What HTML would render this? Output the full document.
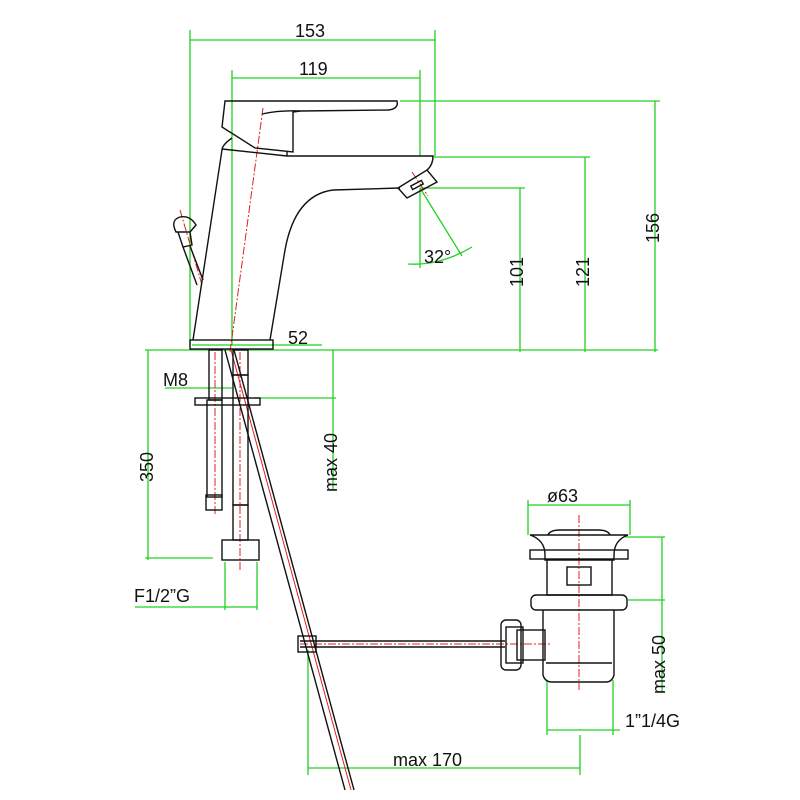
<!DOCTYPE html>
<html><head><meta charset="utf-8"><style>html,body{margin:0;padding:0;background:#fff}svg{display:block}text{font-family:"Liberation Sans",sans-serif;fill:#111}</style></head><body>
<svg width="800" height="800" viewBox="0 0 800 800" xmlns="http://www.w3.org/2000/svg">
<g stroke="#22d022" stroke-width="1.3" fill="none">
<line x1="190" y1="40" x2="435" y2="40"/><line x1="190" y1="30" x2="190" y2="345"/><line x1="435" y1="30" x2="435" y2="158"/>
<line x1="232" y1="78" x2="420" y2="78"/><line x1="232" y1="70" x2="232" y2="345"/><line x1="420" y1="70" x2="420" y2="156"/>
<line x1="400" y1="101" x2="660" y2="101"/><line x1="655" y1="101" x2="655" y2="352"/>
<line x1="436" y1="157" x2="590" y2="157"/><line x1="585" y1="157" x2="585" y2="352"/>
<line x1="420" y1="188" x2="525" y2="188"/><line x1="520" y1="188" x2="520" y2="352"/>
<line x1="145" y1="350" x2="658" y2="350"/>
<line x1="192" y1="345" x2="322" y2="345"/>
<line x1="420" y1="188" x2="420" y2="268"/><line x1="420" y1="188" x2="462" y2="256"/>
<path d="M408 264 Q440 266 472 247"/>
<line x1="148" y1="350" x2="148" y2="560"/><line x1="145" y1="558" x2="213" y2="558"/>
<line x1="165" y1="388" x2="232" y2="388"/>
<line x1="333" y1="350" x2="333" y2="490"/><line x1="255" y1="398" x2="336" y2="398"/>
<line x1="135" y1="607" x2="257" y2="607"/><line x1="225" y1="562" x2="225" y2="610"/><line x1="257" y1="562" x2="257" y2="610"/>
<line x1="528" y1="505" x2="630" y2="505"/><line x1="528" y1="500" x2="528" y2="535"/><line x1="630" y1="500" x2="630" y2="535"/>
<line x1="662" y1="537" x2="662" y2="692"/><line x1="625" y1="537" x2="665" y2="537"/><line x1="628" y1="600" x2="665" y2="600"/>
<line x1="547" y1="680" x2="547" y2="735"/><line x1="613" y1="680" x2="613" y2="735"/><line x1="547" y1="730" x2="620" y2="730"/>
<line x1="308" y1="768" x2="580" y2="768"/><line x1="308" y1="650" x2="308" y2="775"/><line x1="580" y1="735" x2="580" y2="775"/>
</g>
<g stroke="#e02020" stroke-width="1" fill="none" stroke-dasharray="8 2 2 2">
<line x1="263" y1="108" x2="230" y2="352"/>
<line x1="180" y1="210" x2="202" y2="285"/>
<line x1="215" y1="352" x2="215" y2="515"/>
<line x1="240" y1="352" x2="240" y2="570"/>
<line x1="579" y1="515" x2="579" y2="690"/>
<line x1="300" y1="644" x2="550" y2="644"/>
<line x1="412" y1="172" x2="428" y2="196"/>
</g>
<g stroke="#e02020" stroke-width="1" fill="none">
<line x1="231" y1="350" x2="351" y2="790"/>
</g>
<g stroke="#111" stroke-width="1.4" fill="none">
<path d="M225 101 L397 101 Q399 109 388 110 L300 111 L293 112 L293 152 L255 148 L222 127 Z"/>
<path d="M262 114 Q280 110 300 111"/>
<path d="M232 138 Q222 145 222 150 L193 340"/>
<path d="M222 149 L287 156 L433 156 Q433 165 427 170"/>
<path d="M287 156 L287 151"/>
<path d="M333 190 L400 188"/>
<path d="M333 190 Q295 195 285 250 L270 340"/>
<path d="M398 188 L427 170 L437 182 L407 198 Z"/>
<rect x="411" y="183" width="12" height="4" transform="rotate(-28 417 185)"/>
<rect x="190" y="340" width="83" height="9"/>
<path d="M176 232 Q170 220 180 217 Q190 215 196 225 L190 232 Z"/>
<path d="M178 232 L183 247 L192 245 L190 232"/>
<line x1="183" y1="247" x2="197" y2="285"/><line x1="190" y1="246" x2="203" y2="280"/>
<rect x="209" y="350" width="13" height="50"/>
<rect x="207" y="400" width="15" height="97"/>
<rect x="206" y="495" width="16" height="15"/>
<rect x="195" y="398" width="65" height="7"/>
<rect x="233" y="350" width="15" height="25"/>
<rect x="233" y="375" width="15" height="130"/>
<rect x="233" y="505" width="15" height="35"/>
<rect x="222" y="540" width="37" height="20"/>
<line x1="225" y1="350" x2="345" y2="790"/><line x1="234" y1="350" x2="354" y2="790"/>
<line x1="300" y1="641" x2="505" y2="641"/><line x1="300" y1="647" x2="505" y2="647"/>
<rect x="298" y="636" width="18" height="16"/>
<path d="M530 535 Q545 540 545 555 L545 560 L614 560 L614 555 Q614 540 628 535 Z"/>
<path d="M548 535 Q550 530 560 530 L598 530 Q608 530 610 535"/>
<rect x="530" y="550" width="98" height="9"/>
<path d="M547 559 L547 595 L612 595 L612 559"/>
<rect x="567" y="567" width="24" height="18"/>
<rect x="531" y="595" width="96" height="15" rx="5"/>
<path d="M543 610 L543 675 Q545 682 552 682 L606 682 Q612 682 614 675 L614 610"/>
<line x1="546" y1="663" x2="612" y2="663"/>
<rect x="517" y="630" width="28" height="30"/>
<rect x="501" y="620" width="20" height="50" rx="5"/>
<rect x="506" y="627" width="17" height="36"/>
</g>
<g font-size="18">
<text x="295" y="37">153</text>
<text x="299" y="75">119</text>
<text x="288" y="344">52</text>
<text x="424" y="263">32°</text>
<text x="163" y="386">M8</text>
<text x="134" y="602">F1/2”G</text>
<text x="547" y="502">ø63</text>
<text x="625" y="727">1”1/4G</text>
<text x="393" y="766">max 170</text>
<text transform="translate(523,287) rotate(-90)">101</text>
<text transform="translate(589,287) rotate(-90)">121</text>
<text transform="translate(659,243) rotate(-90)">156</text>
<text transform="translate(153,482) rotate(-90)">350</text>
<text transform="translate(337,492) rotate(-90)">max 40</text>
<text transform="translate(665,694) rotate(-90)">max 50</text>
</g>
</svg>
</body></html>
